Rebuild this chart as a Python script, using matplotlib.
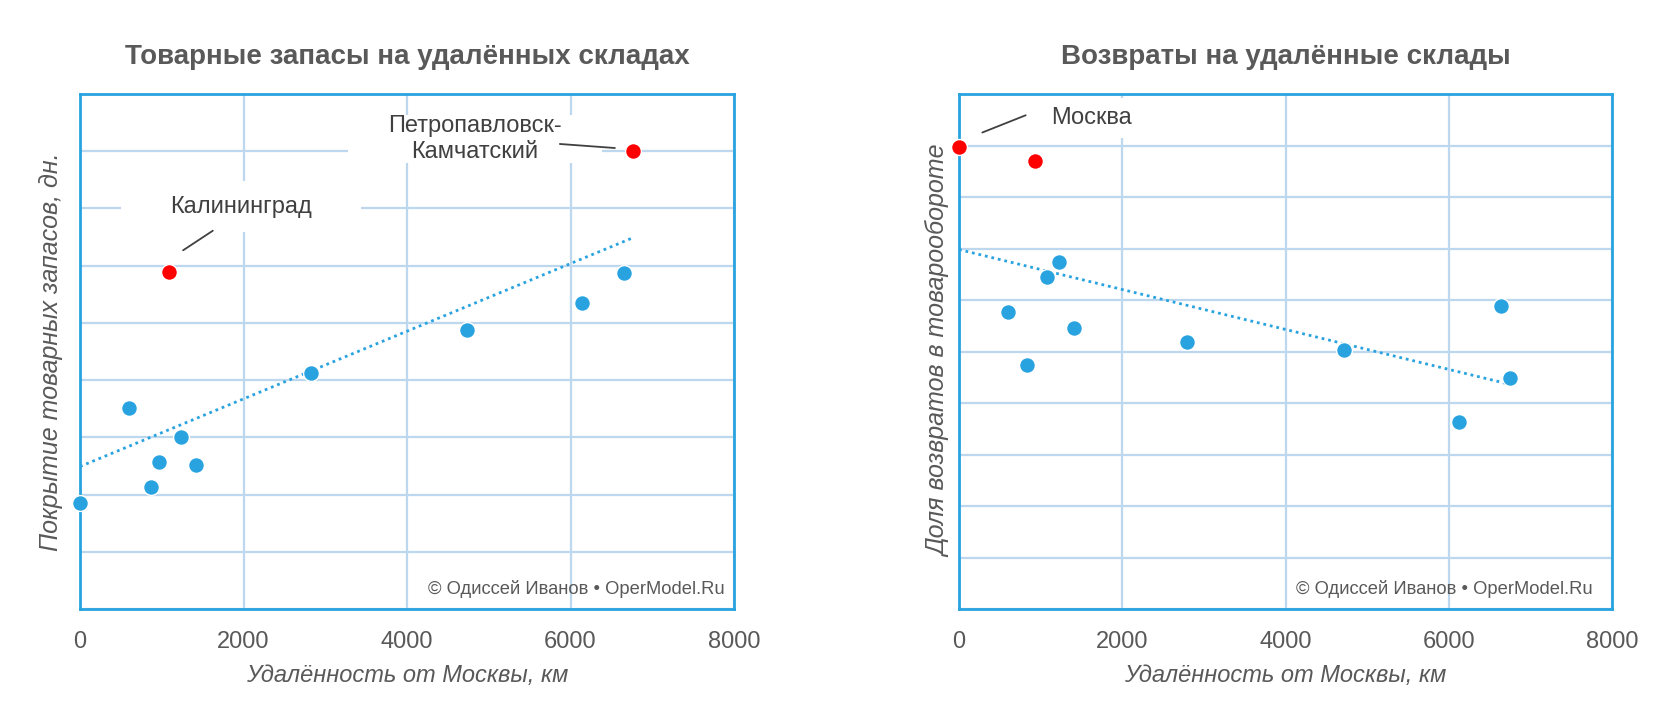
import numpy as np
import matplotlib.pyplot as plt
from matplotlib.path import Path
from matplotlib.transforms import offset_copy

plt.rcParams['font.family'] = ['Liberation Sans', 'DejaVu Sans']

# Left chart: stock coverage vs distance
stock_dist = [0, 603, 866, 970, 1233, 1416, 2820, 4734, 6138, 6649]
stock_days = [18.6, 35.1, 21.4, 25.7, 30.0, 25.1, 41.3, 48.8, 53.4, 58.7]
stock_out_names = ['Калининград', 'Петропавловск-\nКамчатский']
stock_out_dist = [1088, 6767]
stock_out_days = [58.9, 80.1]
stock_trend_x = [0, 6767]
stock_trend_y = [24.9, 64.9]

# Right chart: share of returns vs distance
ret_dist = [1220, 1075, 603, 1403, 839, 2793, 4721, 6125, 6636, 6754]
ret_share = [6.73, 6.44, 5.77, 5.46, 4.73, 5.19, 5.02, 3.63, 5.88, 4.48]
ret_out_names = ['Москва', '']
ret_out_dist = [0, 931]
ret_out_share = [8.98, 8.69]
ret_trend_x = [0, 6754]
ret_trend_y = [6.98, 4.36]

x_ticks = [0, 2000, 4000, 6000, 8000]

BLUE = '#29A3E0'
GRID = '#BDD7EE'
RED = '#FF0000'
TEXT = '#595959'
LABEL = '#404040'

fig = plt.figure(figsize=(16.8, 7.27), dpi=100)
ax1 = fig.add_axes([80 / 1680, 1 - 609 / 727, 654 / 1680, 515 / 727])
ax2 = fig.add_axes([959 / 1680, 1 - 609 / 727, 653 / 1680, 515 / 727])


def label_box(px, py):
    # white label box, padding given in font sizes (different for x and y)
    def box(x0, y0, width, height, mutation_size):
        dx, dy = px * mutation_size, py * mutation_size
        return Path([(x0 - dx, y0 - dy), (x0 + width + dx, y0 - dy),
                     (x0 + width + dx, y0 + height + dy), (x0 - dx, y0 + height + dy),
                     (x0 - dx, y0 - dy)], closed=True)
    return box


def style_axes(ax, ymax, nlines, title, ylabel, ylabelpad):
    ax.set_xlim(0, 8000)
    ax.set_ylim(0, ymax)
    ax.set_xticks(x_ticks)
    ax.set_yticks(np.linspace(0, ymax, nlines + 1))
    ax.grid(True, color=GRID, lw=1.6)
    ax.set_axisbelow(True)
    for s in ax.spines.values():
        s.set_color(BLUE)
        s.set_linewidth(2)
    ax.tick_params(length=0, labelsize=17, labelcolor=TEXT, pad=16, labelleft=False)
    ax.set_title(title, fontsize=20, fontweight='bold', color=TEXT, pad=21.5)
    ax.set_xlabel('Удалённость от Москвы, км', fontsize=17, style='italic',
                  color=TEXT, labelpad=7.5)
    ax.set_ylabel(ylabel, fontsize=18, style='italic', color=TEXT, labelpad=ylabelpad)


def draw(ax, x, y, ox, oy, tx, ty, names, labels, mark_x):
    ax.plot(tx, ty, color=BLUE, lw=2, linestyle=(0, (1, 1.4)), zorder=3)
    ax.scatter(x, y, s=130, color=BLUE, edgecolors='white', linewidths=1, zorder=5, clip_on=False)
    ax.scatter(ox, oy, s=130, color=RED, edgecolors='white', linewidths=1, zorder=5, clip_on=False)
    for name, px, py, lab in zip(names, ox, oy, labels):
        if not name:
            continue
        off, pads, start, end = lab
        ax.annotate(name, xy=(px, py), xytext=off, textcoords='offset points',
                    ha='center', va='center', fontsize=17, color=LABEL,
                    linespacing=1.25, zorder=2.2,
                    bbox=dict(boxstyle=label_box(*pads), fc='white', ec='none'))
        # leader line, drawn over the label box
        tr = offset_copy(ax.transData, fig=fig, x=end[0], y=end[1], units='points')
        ax.annotate('', xy=(px, py), xycoords=tr,
                    xytext=(start[0] - end[0], start[1] - end[1]), textcoords='offset points',
                    zorder=2.3,
                    arrowprops=dict(arrowstyle='-', color=LABEL, lw=1.3, shrinkA=0, shrinkB=0))
    ax.text(mark_x, 0.039, '© Одиссей Иванов • OperModel.Ru',
            transform=ax.transAxes, ha='right', va='center', fontsize=13.2, color=TEXT)


style_axes(ax1, 90, 9, 'Товарные запасы на удалённых складах',
           'Покрытие товарных запасов, дн.', 12)
style_axes(ax2, 10, 10, 'Возвраты на удалённые склады',
           'Доля возвратов в товарообороте', 5.6)

# label: (text offset pt, box pads, leader start pt, leader end pt)
draw(ax1, stock_dist, stock_days, stock_out_dist, stock_out_days,
     stock_trend_x, stock_trend_y, stock_out_names,
     [((52.1, 47.0), (2.08, 0.61), (31.6, 29.7), (10.2, 15.6)),
      ((-114, 8.2), (1.7, 0.0), (-52.8, 4.8), (-13.2, 1.9))], 0.985)
draw(ax2, ret_dist, ret_share, ret_out_dist, ret_out_share,
     ret_trend_x, ret_trend_y, ret_out_names,
     [((95.5, 20.6), (1.2, 0.37), (48, 22.5), (16.8, 10.1)), None], 0.971)

fig.savefig('out.png', dpi=100, facecolor='white')
